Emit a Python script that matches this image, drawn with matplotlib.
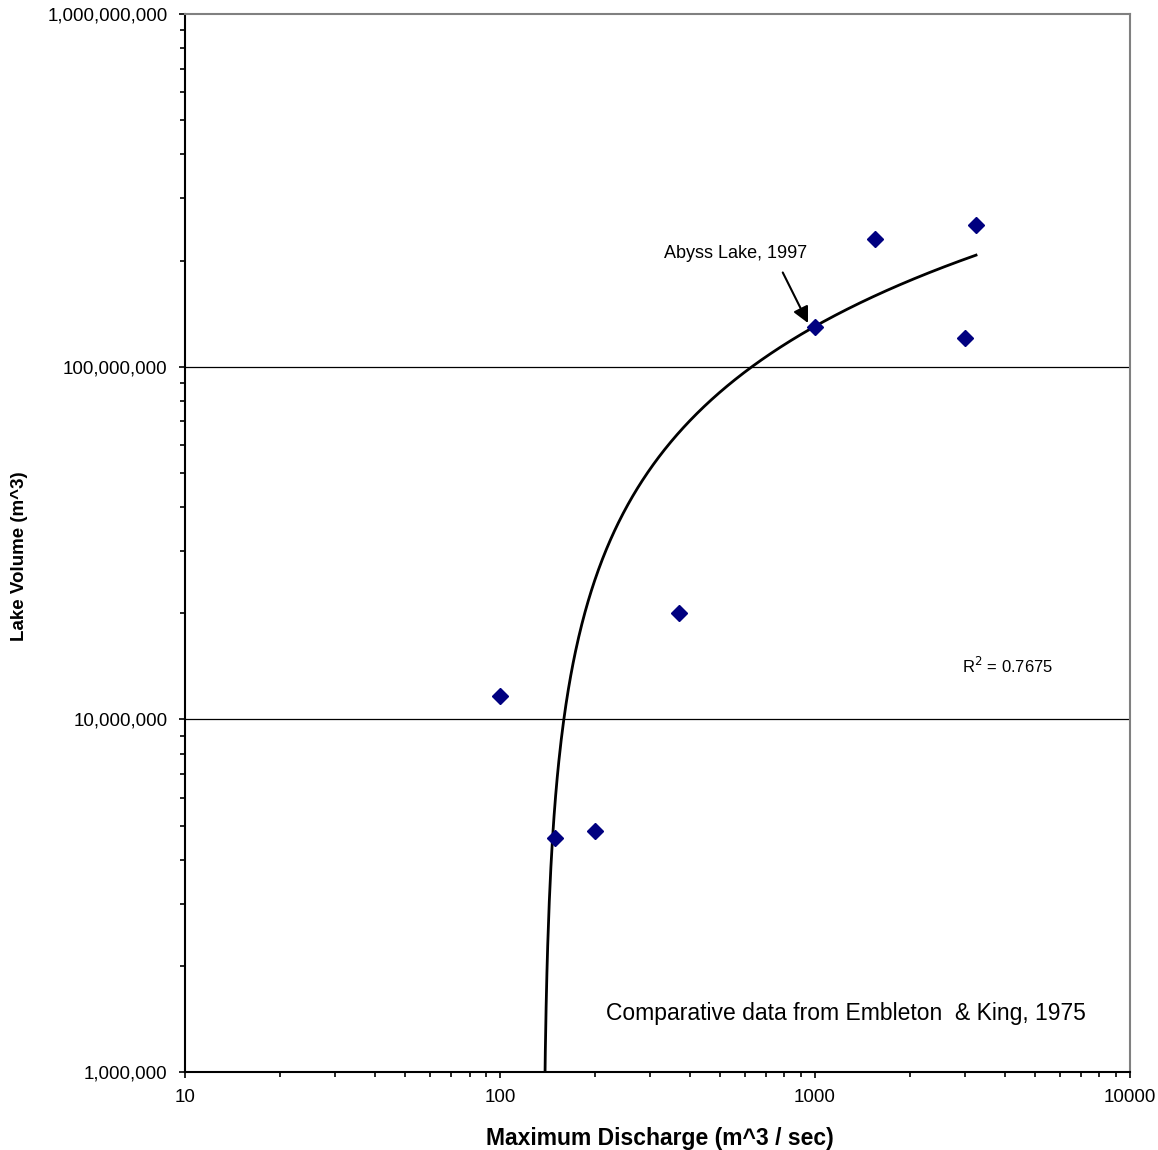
import numpy as np
import matplotlib
matplotlib.use("Agg")
import matplotlib.pyplot as plt
from matplotlib.ticker import FuncFormatter, LogLocator, NullFormatter

# Dati
discharge = [100, 150, 200, 370, 1000, 1550, 3000, 3245]          # m^3/sec
volume = [11.65e6, 4.61e6, 4.82e6, 20.0e6, 130e6, 230e6, 120.5e6, 252e6]  # m^3

x_ticks = [10, 100, 1000, 10000]
y_ticks = [1e6, 1e7, 1e8, 1e9]
r2_label = 'R$^{2}$ = 0.7675'

plt.rcParams['font.family'] = ['Liberation Sans', 'DejaVu Sans']

fig = plt.figure(figsize=(11.58, 11.5), dpi=100)
ax = fig.add_axes([0.1598, 0.0678, 0.816, 0.92])

ax.set_xscale('log')
ax.set_yscale('log')
ax.set_xlim(10, 10000)
ax.set_ylim(1e6, 1e9)

# griglia solo sulle linee principali interne
for yv in y_ticks[1:-1]:
    ax.axhline(yv, color='black', linewidth=0.9, zorder=1)

# trendline logaritmica (stile Excel): y = a ln(x) + b
a, b = np.polyfit(np.log(discharge), volume, 1)
xs = np.logspace(np.log10(min(discharge)), np.log10(max(discharge)), 600)
ys = a * np.log(xs) + b
ys = np.where(ys > 0, ys, np.nan)
ax.plot(xs, ys, color='black', linewidth=2, zorder=2)

ax.plot(discharge, volume, linestyle='none', marker='D', markersize=8.5,
        color='#000080', zorder=3)

ax.text(4100, 1.42e7, r2_label, fontsize=12, ha='center', va='center')

ax.text(560, 2.1e8, 'Abyss Lake, 1997', fontsize=13, ha='center', va='center')
ax.annotate('', xy=(950, 1.33e8), xytext=(790, 1.85e8),
            arrowprops=dict(arrowstyle='-|>', color='black', lw=1.5,
                            mutation_scale=24, shrinkA=0, shrinkB=0))

ax.text(1254, 1.47e6, 'Comparative data from Embleton  & King, 1975',
        fontsize=16.5, ha='center', va='center')

ax.set_xticks(x_ticks)
ax.xaxis.set_major_formatter(FuncFormatter(lambda v, p: f'{int(v)}'))
ax.xaxis.set_minor_locator(LogLocator(base=10, subs=np.arange(2, 10)))
ax.xaxis.set_minor_formatter(NullFormatter())
ax.set_yticks(y_ticks)
ax.yaxis.set_major_formatter(FuncFormatter(lambda v, p: f'{int(v):,}'))
ax.yaxis.set_minor_locator(LogLocator(base=10, subs=np.arange(2, 10)))
ax.yaxis.set_minor_formatter(NullFormatter())

ax.tick_params(axis='both', which='major', direction='out', length=4.5, width=1.2,
               labelsize=13.5, pad=8)
ax.tick_params(axis='both', which='minor', direction='out', length=3.5, width=1.2)

ax.spines['left'].set_linewidth(1.5)
ax.spines['bottom'].set_linewidth(1.5)
ax.spines['top'].set_color('#808080')
ax.spines['right'].set_color('#808080')
ax.spines['top'].set_linewidth(1.5)
ax.spines['right'].set_linewidth(1.5)

ax.set_xlabel('Maximum Discharge (m^3 / sec)', fontsize=16.5, fontweight='bold')
ax.xaxis.set_label_coords(0.503, -0.052)
ax.set_ylabel('Lake Volume (m^3)', fontsize=13.5, fontweight='bold')
ax.yaxis.set_label_coords(-0.166, 0.4877)

fig.savefig('out.png', dpi=100)
